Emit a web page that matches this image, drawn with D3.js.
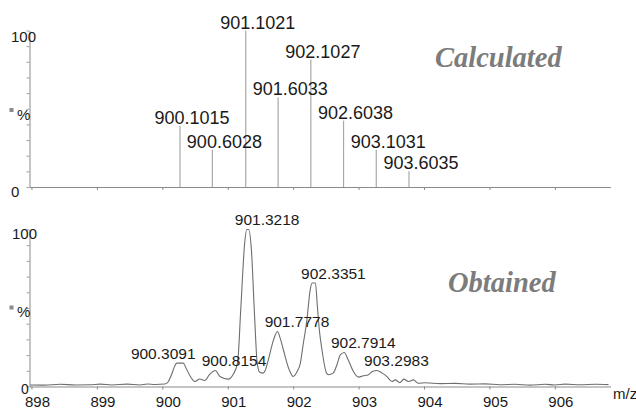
<!DOCTYPE html>
<html>
<head>
<meta charset="utf-8">
<script src="https://cdn.jsdelivr.net/npm/d3@7"></script>
<style>
  body { margin: 0; background: #fff; }
  svg { display: block; }
  text { font-family: "Liberation Sans", Arial, sans-serif; fill: #1a1a1a; }
</style>
</head>
<body>
<div id="chart"></div>
<script>
// vypoctene izotopove spektrum (carky) - poloha tak jak je v obrazku
const calcMz = [900.27, 900.765, 901.275, 901.77, 902.27, 902.77, 903.27, 903.77];
const calcPct = [39.2, 23.8, 100, 57.3, 81.4, 42.4, 23.8, 10];
const calcLabels = ["900.1015", "900.6028", "901.1021", "901.6033", "902.1027", "902.6038", "903.1031", "903.6035"];

// namerene spektrum - body krivky [m/z, %]
const obsMz = [897.98, 898.2, 898.44, 898.67, 898.9, 899.05, 899.23, 899.46, 899.66, 899.77, 899.89, 900.04,
  900.09, 900.14, 900.19, 900.22, 900.32, 900.36, 900.42, 900.5, 900.57, 900.65, 900.72, 900.81, 900.88,
  901.01, 901.08, 901.15, 901.2, 901.26, 901.29, 901.32, 901.36, 901.41, 901.45, 901.49, 901.54, 901.57,
  901.62, 901.7, 901.76, 901.8, 901.85, 901.94, 902.0, 902.06, 902.11, 902.15, 902.21, 902.26, 902.29,
  902.34, 902.37, 902.4, 902.44, 902.51, 902.54, 902.61, 902.67, 902.72, 902.78, 902.84, 902.92, 903.0,
  903.07, 903.15, 903.21, 903.28, 903.36, 903.43, 903.51, 903.56, 903.63, 903.69, 903.76, 903.84, 903.91,
  904.02, 904.25, 904.48, 904.7, 904.93, 905.16, 905.39, 905.62, 905.85, 906.0, 906.16, 906.39, 906.62, 906.82];
const obsPct = [1.0, 0.9, 1.4, 1.0, 1.1, 1.5, 1.0, 1.5, 1.0, 1.6, 1.3, 1.6,
  3, 7.5, 13, 14.9, 14.9, 12, 7, 3.2, 4.8, 3.8, 7.5, 10.2, 6.4,
  4.7, 7.5, 15, 50, 92, 100, 100, 88, 45, 15, 9, 8.5, 10,
  17, 29.7, 35, 31, 23.4, 10.6, 6.4, 9.5, 14.9, 26, 42.5, 61.6, 65.9,
  65.9, 51, 36, 23.4, 8.5, 7.5, 8.5, 14, 20.2, 21.7, 17, 9.6, 6,
  6.8, 7.5, 9.5, 10.2, 8.5, 6.4, 3.2, 4.2, 2.5, 4.7, 3.2, 4.2, 2.1,
  2.4, 1.8, 2.0, 1.5, 1.7, 1.1, 1.4, 0.9, 1.4, 1.0, 1.5, 1.1, 1.4, 1.2];

// popisky vrcholu namereneho spektra
const peakLabels = ["900.3091", "900.8154", "901.3218", "901.7778", "902.3351", "902.7914", "903.2983"];
const peakPct = [14.9, 10.2, 100, 35, 65.9, 21.7, 10.2];

const xTicks = [898, 899, 900, 901, 902, 903, 904, 905, 906];
const yTicks = [0, 10, 20, 30, 40, 50, 60, 70, 80, 90, 100];

const width = 636, height = 409;

const svg = d3.select("#chart").append("svg")
  .attr("width", width)
  .attr("height", height);

const x = d3.scaleLinear().domain([897.97, 906.85]).range([29.5, 610.5]);

// dva panely nad sebou
const yTop = d3.scaleLinear().domain([0, 100]).range([187, 30.5]);
const yBot = d3.scaleLinear().domain([0, 100]).range([386.5, 229.5]);

function drawAxes(y, base, withLabels) {
  const gx = svg.append("g")
    .attr("transform", `translate(0,${base})`)
    .call(d3.axisBottom(x).tickValues(xTicks).tickSize(3).tickSizeOuter(0)
      .tickFormat(withLabels ? d3.format("d") : ""));
  gx.select(".domain").attr("stroke", "#8a8a8a");
  gx.selectAll(".tick line").attr("stroke", "#8a8a8a");
  gx.selectAll(".tick text")
    .attr("font-size", 15)
    .style("font-family", "Liberation Sans, Arial, sans-serif")
    .attr("dx", 5.5)
    .attr("y", 0)
    .attr("dy", 20.5);

  const gy = svg.append("g")
    .attr("transform", `translate(29.5,0)`)
    .call(d3.axisLeft(y).tickValues(yTicks).tickSize(3).tickSizeOuter(0).tickFormat(""));
  gy.select(".domain").attr("stroke", "#8a8a8a");
  gy.selectAll(".tick line").attr("stroke", "#a0a0a0");
}

drawAxes(yTop, 187, false);
drawAxes(yBot, 386.5, true);

// popisky osy y
svg.append("text").attr("x", 11).attr("y", 42).attr("font-size", 15).text("100");
svg.append("text").attr("x", 11).attr("y", 197).attr("font-size", 15).text("0");
svg.append("text").attr("x", 12).attr("y", 239).attr("font-size", 15).text("100");
svg.append("text").attr("x", 21).attr("y", 394).attr("font-size", 14).text("0");

[119.5, 317].forEach(function (yy) {
  svg.append("rect").attr("x", 9.5).attr("y", yy - 11.5).attr("width", 4).attr("height", 4).attr("fill", "#8a8a8a");
  svg.append("text").attr("x", 17).attr("y", yy).attr("font-size", 15).text("%");
});

svg.append("text").attr("x", 613).attr("y", 399).attr("font-size", 15).text("m/z");

// carky vypocteneho spektra
svg.append("g").selectAll("line")
  .data(calcMz)
  .join("line")
  .attr("x1", d => x(d))
  .attr("x2", d => x(d))
  .attr("y1", yTop(0))
  .attr("y2", (d, i) => yTop(calcPct[i]))
  .attr("stroke", "#a8a8a8")
  .attr("stroke-width", 1.2);

svg.append("g").selectAll("text")
  .data(calcLabels)
  .join("text")
  .attr("x", (d, i) => x(calcMz[i]) - 25.5)
  .attr("y", (d, i) => yTop(calcPct[i]) - 2)
  .attr("font-size", 18)
  .text(d => d);

// krivka namereneho spektra
const line = d3.line()
  .x(d => x(d[0]))
  .y(d => yBot(d[1]))
  .curve(d3.curveMonotoneX);

svg.append("path")
  .datum(obsMz.map((m, i) => [m, obsPct[i]]))
  .attr("d", line)
  .attr("fill", "none")
  .attr("stroke", "#6e6e6e")
  .attr("stroke-width", 1.1);

svg.append("g").selectAll("text")
  .data(peakLabels)
  .join("text")
  .attr("x", (d, i) => i === 0 ? x(+d) + 13 : x(+d) - 14)
  .attr("text-anchor", (d, i) => i === 0 ? "end" : "start")
  .attr("y", (d, i) => yBot(peakPct[i]) - 4.5)
  .attr("font-size", 15.5)
  .text(d => d);

// nadpisy panelu
svg.append("text")
  .attr("x", 435).attr("y", 66.5)
  .style("font-family", "'Liberation Serif', 'Times New Roman', serif")
  .style("font-style", "italic").style("font-weight", "bold")
  .attr("font-size", 28.5)
  .style("fill", "#7c7c7c")
  .text("Calculated");

svg.append("text")
  .attr("x", 448).attr("y", 291.5)
  .style("font-family", "'Liberation Serif', 'Times New Roman', serif")
  .style("font-style", "italic").style("font-weight", "bold")
  .attr("font-size", 28.5)
  .style("fill", "#7c7c7c")
  .text("Obtained");
</script>
</body>
</html>
